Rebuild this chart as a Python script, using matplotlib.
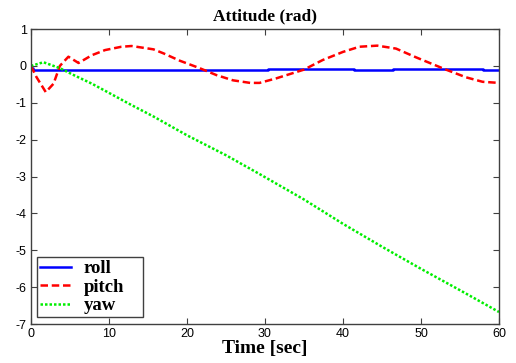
import matplotlib
matplotlib.use("Agg")
import matplotlib.pyplot as plt

plt.rcParams["axes.unicode_minus"] = False

# values
roll_t = [0, 0.3, 1.3, 2.5, 10, 11, 14.6, 15.5, 26.5, 30.4, 41.4, 46.4, 58, 60]
roll_v = [-0.05, -0.1, -0.12, -0.1, -0.12, -0.1, -0.12, -0.1, -0.12, -0.09, -0.12, -0.09, -0.12, -0.12]

pitch_t = [0, 0.7, 1.9, 2.9, 3.7, 4.8, 6.1, 7.8, 9.5, 11.6, 12.9, 15.7, 17.0, 19.1,
           21.5, 23.8, 25.9, 28.1, 29.3, 31.4, 35.0, 37.4, 40.0, 42.1, 44.4, 46.8,
           49.4, 53.2, 55.8, 57.9, 60]
pitch_v = [0, -0.3, -0.71, -0.48, 0.0, 0.25, 0.08, 0.29, 0.43, 0.52, 0.54, 0.45, 0.34, 0.14,
           -0.05, -0.25, -0.39, -0.46, -0.46, -0.34, -0.1, 0.16, 0.38, 0.52, 0.55, 0.47,
           0.23, -0.1, -0.31, -0.43, -0.46]

yaw_t = [0, 1.6, 3.7, 5.5, 7.8, 10, 12.7, 15.7, 20, 25, 29.3, 35, 40, 45, 50, 55, 60]
yaw_v = [0, 0.1, -0.06, -0.25, -0.48, -0.73, -1.04, -1.37, -1.88, -2.42, -2.93, -3.62,
         -4.28, -4.9, -5.5, -6.08, -6.67]

fig = plt.figure(figsize=(5.16, 3.63), dpi=100)
ax = fig.add_axes([0.060, 0.107, 0.907, 0.813])

ax.plot(roll_t, roll_v, color="#0000ff", lw=1.8, drawstyle="steps-post", label="roll")
ax.plot(pitch_t, pitch_v, color="#ff0000", lw=1.8, ls=(0, (3, 1.5)), label="pitch")
ax.plot(yaw_t, yaw_v, color="#00ee00", lw=1.8, ls=(0, (1, 0.8)), label="yaw")

ax.set_xlim(0, 60)
ax.set_ylim(-7, 1)
ax.set_xticks(range(0, 61, 10))
ax.set_yticks(range(-7, 2))
ax.tick_params(direction="in", top=True, right=True, length=4, labelsize=9,
               color="#404040", pad=3)
for lab in ax.get_xticklabels() + ax.get_yticklabels():
    lab.set_family("Liberation Sans")
for s in ax.spines.values():
    s.set_color("#404040")
    s.set_linewidth(1.0)

ax.set_title("Attitude (rad)", family="Liberation Serif", weight="bold", fontsize=12.5, pad=6)
ax.set_xlabel("Time [sec]", family="Liberation Serif", weight="bold", fontsize=14, labelpad=0)

leg = ax.legend(loc="lower left", bbox_to_anchor=(0.0128, 0.0237, 0.2265, 0.2), mode="expand",
                prop={"family": "Liberation Serif", "weight": "bold", "size": 13.5},
                fancybox=False, framealpha=1, edgecolor="#404040", handlelength=1.65,
                handletextpad=0.7, borderaxespad=0, labelspacing=0.08, borderpad=0.15)
leg.get_frame().set_linewidth(1.0)

fig.savefig("out.png", dpi=100)
